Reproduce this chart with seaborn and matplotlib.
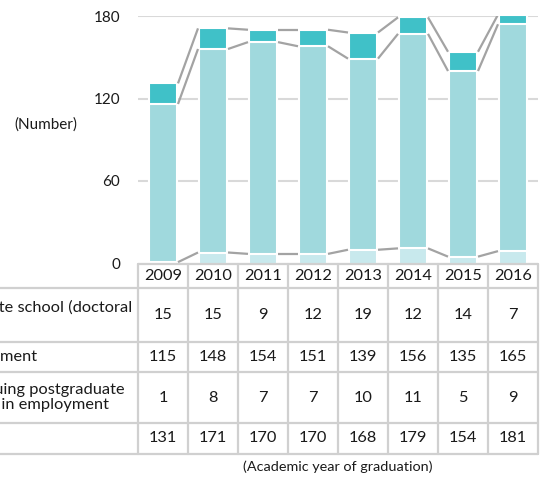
import matplotlib
matplotlib.use("Agg")
import matplotlib.pyplot as plt
import matplotlib.transforms as mtransforms
from matplotlib.lines import Line2D
import pandas as pd
import seaborn as sns

# Data
years = ["2009", "2010", "2011", "2012", "2013", "2014", "2015", "2016"]
grad_school = [15, 15, 9, 12, 19, 12, 14, 7]
employment = [115, 148, 154, 151, 139, 156, 135, 165]
postgrad_employed = [1, 8, 7, 7, 10, 11, 5, 9]
totals = [131, 171, 170, 170, 168, 179, 154, 181]

row_labels = [
    "Graduate school (doctoral\ncourse)",
    "Employment",
    "Continuing postgraduate\nstudies in employment",
    "Total",
]
row_values = [grad_school, employment, postgrad_employed, totals]

DARK = "#40C1C8"
MID = "#A0D9DD"
LIGHT = "#C8E9ED"
GRID = "#D9D9D9"
TABLE_LINE = "#D0D0D0"
CONNECTOR = "#A3A3A3"
TEXT = "#1A1A1A"
TABLE_FS = 11.8

sns.set_theme(style="white")
plt.rcParams["font.family"] = ["Lato", "DejaVu Sans"]

W, H = 544, 478
fig = plt.figure(figsize=(W / 100, H / 100), dpi=100)


def fx(px):
    return px / W


def fy(py):
    return 1 - py / H


# plot area (pixel box from the reference)
ax = fig.add_axes([fx(138), fy(263.5), (538 - 138) / W, (263.5 - 16) / H])

df = pd.DataFrame({
    "year": years,
    "post": postgrad_employed,
    "emp": employment,
    "grad": grad_school,
})
df["lvl2"] = df["post"] + df["emp"]
df["lvl3"] = df["lvl2"] + df["grad"]

bar_w = 0.56
# stacked bars drawn as overlapping cumulative bars (largest first)
for col, color in [("lvl3", DARK), ("lvl2", MID), ("post", LIGHT)]:
    sns.barplot(data=df, x="year", y=col, order=years, color=color,
                saturation=1, width=bar_w, edgecolor="white", linewidth=1.5,
                errorbar=None, ax=ax, zorder=2)

# connector lines between segment tops
half = bar_w / 2 + 0.02
for col in ["post", "lvl2", "lvl3"]:
    vals = df[col].tolist()
    for i in range(len(years) - 1):
        ax.plot([i + half, i + 1 - half], [vals[i], vals[i + 1]],
                color=CONNECTOR, lw=1.6, zorder=3, solid_capstyle="butt")

ax.set_xlim(-0.5, len(years) - 0.5)
ax.set_ylim(0, 180)
ax.set_yticks([0, 60, 120, 180])
ax.tick_params(axis="y", length=0, pad=13, labelsize=11, labelcolor=TEXT)
ax.tick_params(axis="x", bottom=False, labelbottom=False)
ax.set_xlabel("")
ax.set_ylabel("")
for s in ax.spines.values():
    s.set_visible(False)
ax.yaxis.grid(True, color=GRID, lw=1.5)
ax.xaxis.grid(False)
ax.set_axisbelow(True)

fig.text(fx(46), fy(125), "(Number)", ha="center", va="center",
         fontsize=11, color=TEXT)

# ---- data table below the plot ----
tr = mtransforms.blended_transform_factory(ax.transData, fig.transFigure)
row_edges = [263.5, 288, 342, 372, 423, 454]
n = len(years)

# horizontal borders
for k, py in enumerate(row_edges):
    x0 = -0.5 if k == 0 else -5
    fig.add_artist(Line2D([x0, n - 0.5], [fy(py), fy(py)], transform=tr,
                          color=TABLE_LINE, lw=1.6))
# vertical borders
for k in range(n + 1):
    fig.add_artist(Line2D([k - 0.5, k - 0.5], [fy(row_edges[0]), fy(row_edges[-1])],
                          transform=tr, color=TABLE_LINE, lw=1.6))

# header
yc = fy((row_edges[0] + row_edges[1]) / 2)
for i, yr in enumerate(years):
    ax.text(i, yc, yr, transform=tr, ha="center", va="center",
            fontsize=TABLE_FS, color=TEXT, clip_on=False)

# row labels start off the left edge (the reference crops them);
# offset so that "Employment" shows from "ment"
renderer = fig.canvas.get_renderer()
probe = fig.text(0, 0, "Employ", fontsize=TABLE_FS)
prefix_px = probe.get_window_extent(renderer).width
probe.remove()
label_x = fx(-prefix_px)

for r, (lab, vals) in enumerate(zip(row_labels, row_values)):
    yc = fy((row_edges[r + 1] + row_edges[r + 2]) / 2)
    fig.text(label_x, yc, lab, ha="left", va="center", fontsize=TABLE_FS,
             color=TEXT, linespacing=1.1)
    for i, v in enumerate(vals):
        ax.text(i, yc, str(v), transform=tr, ha="center", va="center",
                fontsize=TABLE_FS, color=TEXT, clip_on=False)

ax.text((n - 1) / 2, fy(467), "(Academic year of graduation)", transform=tr,
        ha="center", va="center", fontsize=10.4, color=TEXT, clip_on=False)

fig.savefig("out.png", dpi=100)
